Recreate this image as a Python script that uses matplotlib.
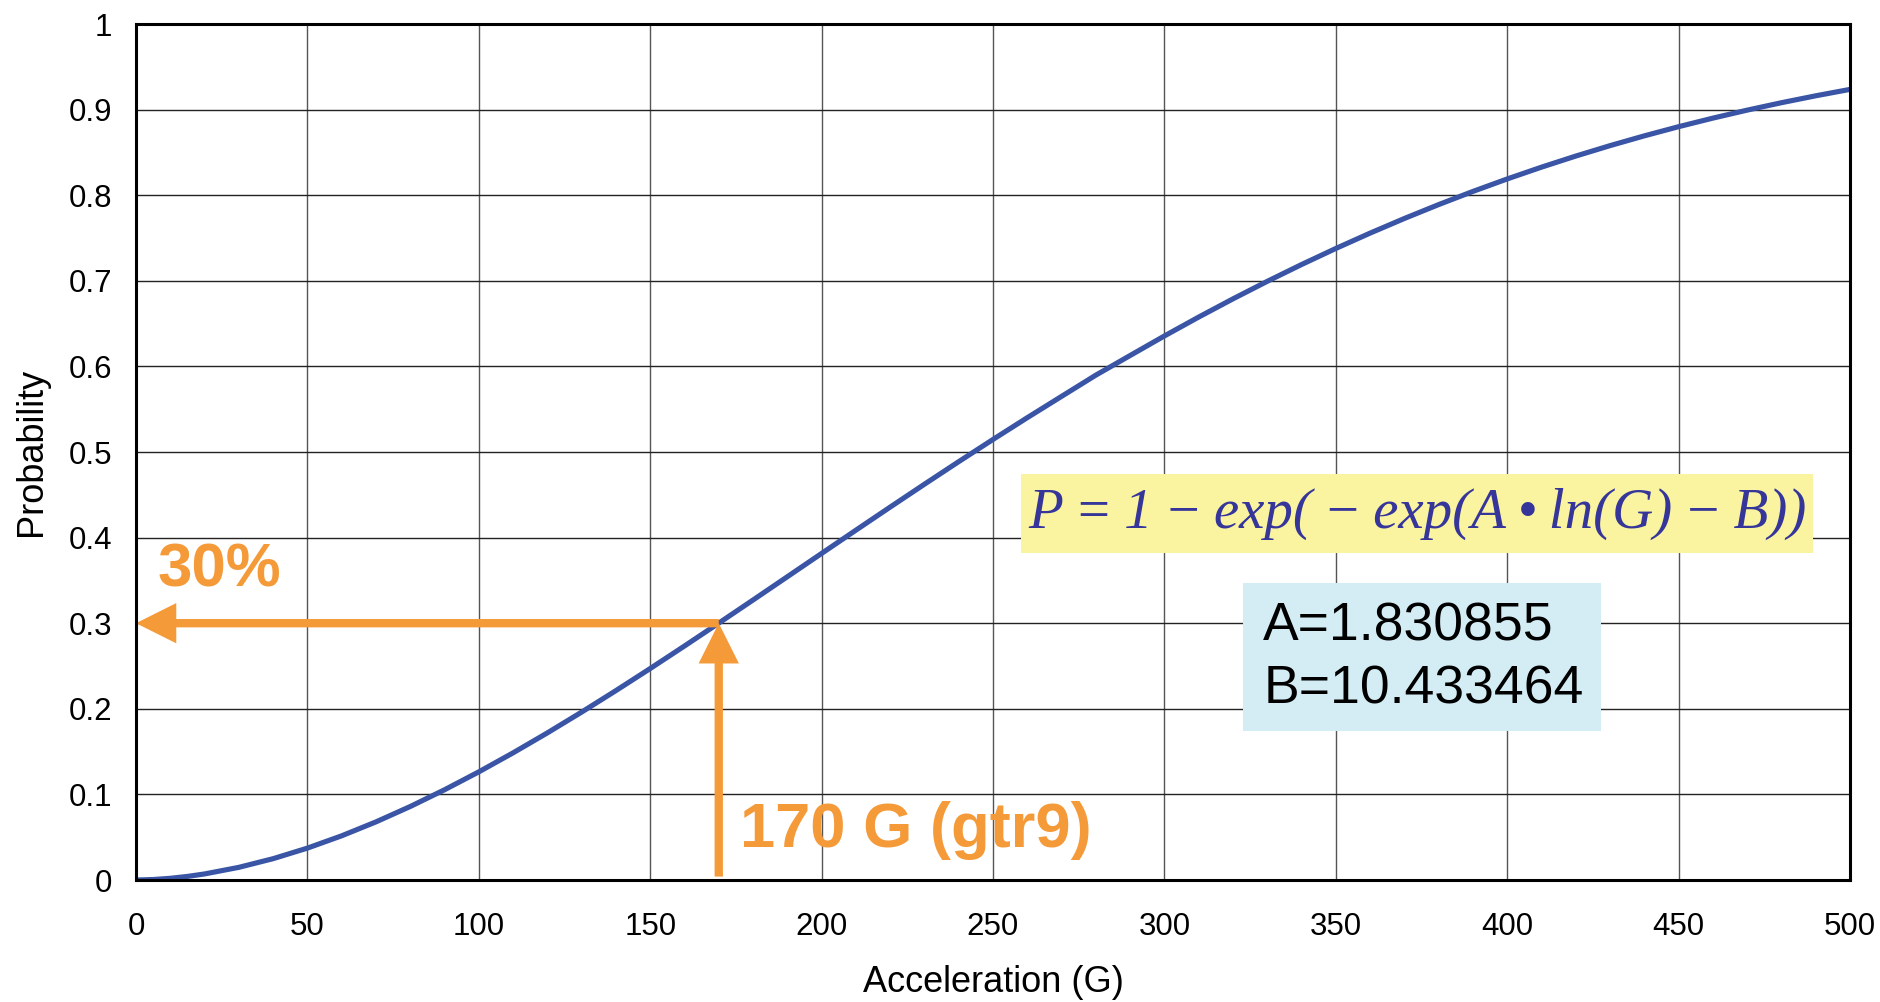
import matplotlib
matplotlib.use("Agg")
import matplotlib.pyplot as plt
from matplotlib.patches import Rectangle

plt.rcParams['font.family'] = ['Liberation Sans', 'DejaVu Sans']

# Data
accel = [0, 5, 10, 15, 20, 30, 40, 50, 60, 70, 80, 90, 100, 110, 120, 130,
         140, 150, 160, 170, 180, 190, 200, 210, 220, 230, 240, 250, 260, 270,
         280, 290, 300, 310, 320, 330, 340, 350, 360, 370, 380, 390, 400, 410,
         420, 430, 440, 450, 460, 470, 480, 490, 500]
prob = [0.0, 0.00056, 0.00199, 0.00418, 0.00707, 0.01479, 0.02491, 0.03725,
        0.05163, 0.06788, 0.08585, 0.10539, 0.12633, 0.14854, 0.17186,
        0.19615, 0.22125, 0.24703, 0.27336, 0.30010, 0.32711, 0.35428,
        0.38150, 0.40865, 0.43564, 0.46236, 0.48873, 0.51466, 0.54010,
        0.56498, 0.58979, 0.61273, 0.63556, 0.65762, 0.67889, 0.69936,
        0.71898, 0.73776, 0.75570, 0.77279, 0.78902, 0.80442, 0.81899,
        0.83275, 0.84571, 0.85790, 0.86933, 0.88004, 0.89004, 0.89937,
        0.90805, 0.91612, 0.92360]
x_ticks = [0, 50, 100, 150, 200, 250, 300, 350, 400, 450, 500]
y_ticks = [0, 0.1, 0.2, 0.3, 0.4, 0.5, 0.6, 0.7, 0.8, 0.9, 1]
y_tick_labels = ["0", "0.1", "0.2", "0.3", "0.4", "0.5", "0.6", "0.7", "0.8", "0.9", "1"]
marker_g = 170
marker_p = 0.3
ts = "\u2009"
formula = ts.join(["P", "=", "1", "−", "exp(", "−", "exp(A", "•", "ln(G)", "−", "B))"])
params = ["A=1.830855", "B=10.433464"]

orange = "#F59A38"
blue = "#3A55A5"

fig = plt.figure(figsize=(18.81, 10.02), dpi=100)
ax = fig.add_axes([136/1881, 1-880/1002, (1850-136)/1881, (880-24)/1002])

ax.plot(accel, prob, color=blue, lw=3.7, zorder=3, solid_capstyle='round')

ax.set_xlim(0, 500)
ax.set_ylim(0, 1)
ax.set_xticks(x_ticks)
ax.set_yticks(y_ticks)
ax.set_yticklabels(y_tick_labels)
ax.tick_params(axis='both', length=0, labelsize=22.5)
ax.tick_params(axis='y', pad=17)
ax.tick_params(axis='x', pad=23)
ax.xaxis.grid(True, color='#555555', lw=1.0, zorder=0)
ax.yaxis.grid(True, color='#222222', lw=1.0, zorder=0)
ax.set_axisbelow(True)
for s in ax.spines.values():
    s.set_linewidth(2.2)
    s.set_color('black')
    s.set_zorder(5)

ax.set_xlabel("Acceleration (G)", fontsize=26, va='center')
ax.xaxis.set_label_coords(0.5, (880-983)/856)
ax.set_ylabel("Probability", fontsize=26, va='center')
ax.yaxis.set_label_coords((32-136)/1714, 0.5)

# Arrows
astyle = 'simple,head_length=2.9,head_width=2.9,tail_width=0.6'
ax.annotate('', xy=(0, marker_p), xytext=(marker_g, marker_p),
            arrowprops=dict(arrowstyle=astyle, color=orange, mutation_scale=10,
                            shrinkA=0, shrinkB=0, lw=0),
            zorder=4, annotation_clip=False)
ax.annotate('', xy=(marker_g, marker_p), xytext=(marker_g, 0.004),
            arrowprops=dict(arrowstyle=astyle, color=orange, mutation_scale=10,
                            shrinkA=0, shrinkB=0, lw=0),
            zorder=4)

ax.text(6.4, 0.361, "30%", color=orange, fontsize=44.5, fontweight='bold',
        ha='left', va='center', zorder=6)
ax.text(176.2, 0.058, "170 G (gtr9)", color=orange, fontsize=45.5, fontweight='bold',
        ha='left', va='center', zorder=6)

# Formula box
ax.add_patch(Rectangle((258.2, 0.382), 489.2-258.2, 0.474-0.382,
                       facecolor='#FAF4A0', edgecolor='none', zorder=4))
ax.text((258.2+489.2)/2, 0.428, formula, fontsize=41, style='italic',
        family=['Liberation Serif', 'DejaVu Serif'], color='#35359A',
        ha='center', va='center', zorder=6)

# Parameter box
ax.add_patch(Rectangle((322.9, 0.174), 427.4-322.9, 0.347-0.174,
                       facecolor='#D4EDF4', edgecolor='none', zorder=4))
ax.text(328.8, 0.2956, params[0], fontsize=38.5, color='black',
        ha='left', va='center', zorder=6)
ax.text(328.8, 0.222, params[1], fontsize=38.5, color='black',
        ha='left', va='center', zorder=6)

fig.savefig("out.png", dpi=100)
